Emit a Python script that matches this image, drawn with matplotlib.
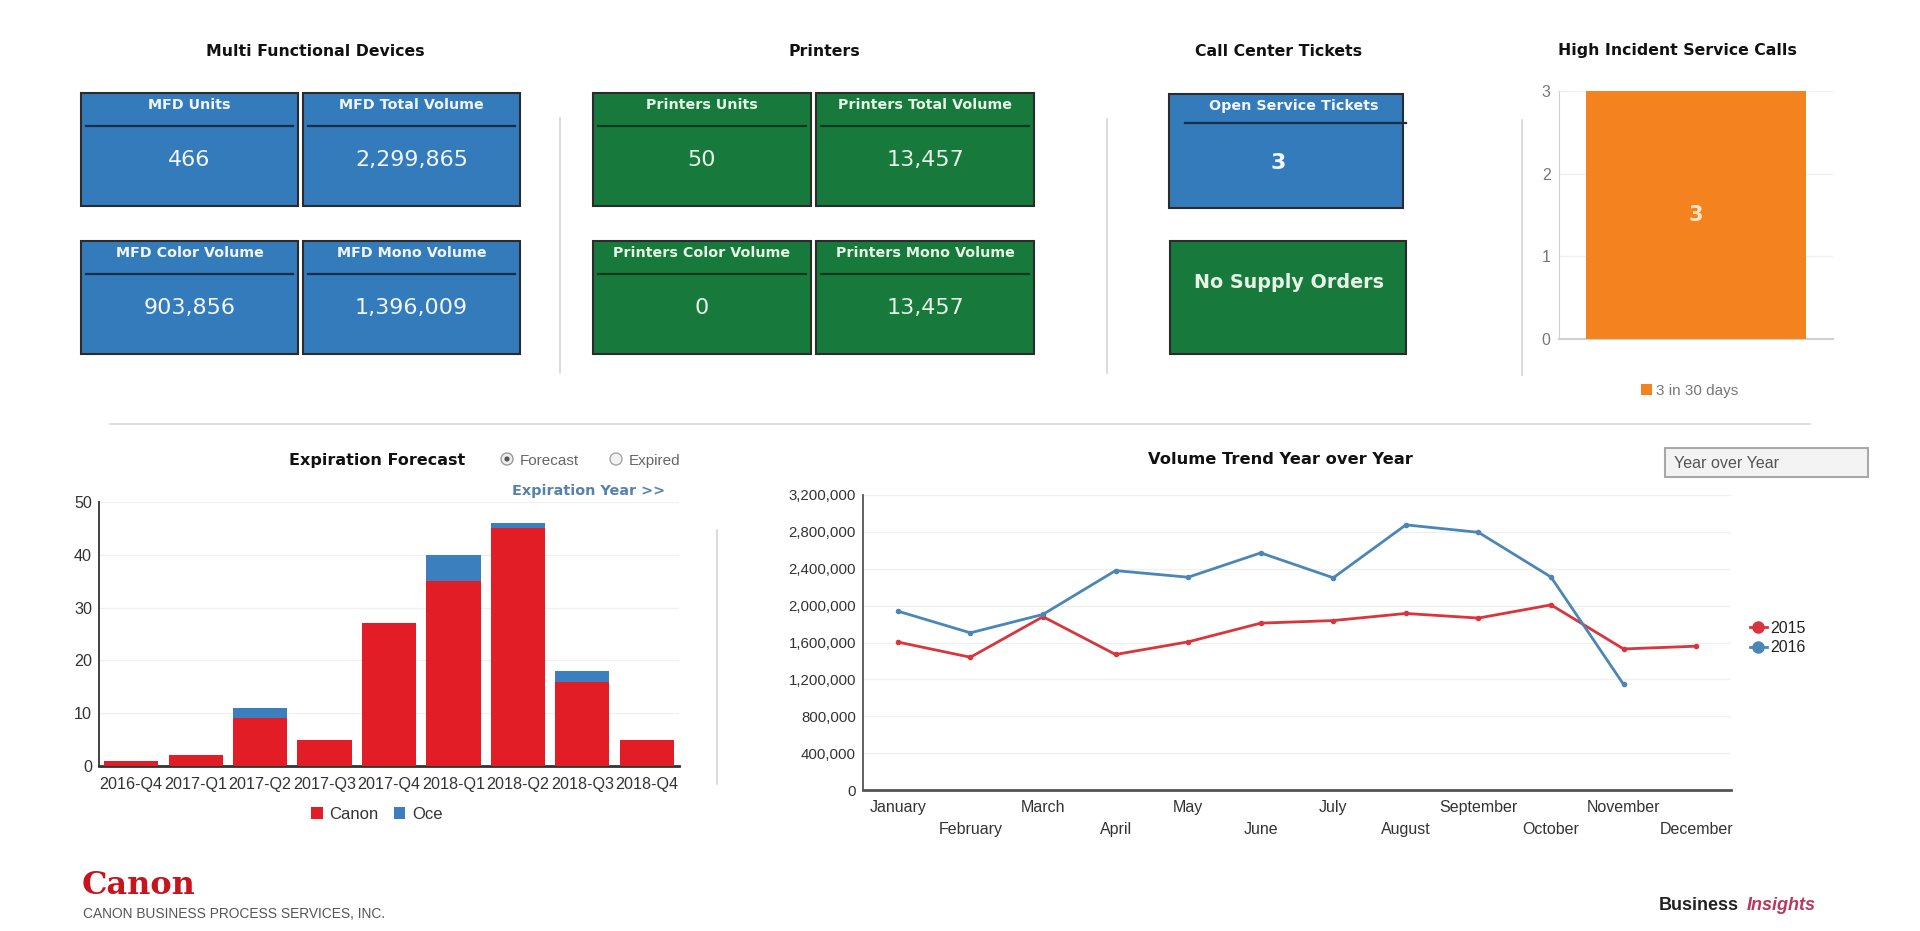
import matplotlib
matplotlib.use("Agg")
import matplotlib.pyplot as plt
from matplotlib.patches import Rectangle, Circle
from matplotlib.lines import Line2D
from matplotlib.ticker import FuncFormatter

# Kachel-Daten
mfd_titles = ["MFD Units", "MFD Total Volume", "MFD Color Volume", "MFD Mono Volume"]
mfd_values = [466, 2299865, 903856, 1396009]
printer_titles = ["Printers Units", "Printers Total Volume", "Printers Color Volume", "Printers Mono Volume"]
printer_values = [50, 13457, 0, 13457]
open_tickets = 3
supply_text = "No Supply Orders"

# High Incident Service Calls
incident_labels = ["3 in 30 days"]
incident_values = [3]

# Expiration Forecast
quarters = ["2016-Q4", "2017-Q1", "2017-Q2", "2017-Q3", "2017-Q4",
            "2018-Q1", "2018-Q2", "2018-Q3", "2018-Q4"]
canon = [1, 2, 9, 5, 27, 35, 45, 16, 5]
oce = [0, 0, 2, 0, 0, 5, 1, 2, 0]

# Volume Trend Year over Year
months = ["January", "February", "March", "April", "May", "June", "July",
          "August", "September", "October", "November", "December"]
vol_2015 = [1605000, 1440000, 1880000, 1470000, 1607000, 1810000, 1838000,
            1915000, 1865000, 2008000, 1530000, 1560000]
vol_2016 = [1940000, 1705000, 1905000, 2380000, 2308000, 2572000, 2302000,
            2876000, 2795000, 2310000, 1145000]

W, H = 1920, 931
BLUE = "#347bbb"
GREEN = "#18793d"
ORANGE = "#f4821f"
RED = "#e21d25"
OCE_BLUE = "#3b7fbf"
CHART_FONT = "Liberation Sans"

fig = plt.figure(figsize=(W / 100, H / 100), dpi=100)
fig.patch.set_facecolor("white")

# Hintergrund-Achse in Pixelkoordinaten
bg = fig.add_axes([0, 0, 1, 1])
bg.set_xlim(0, W)
bg.set_ylim(H, 0)
bg.axis("off")


def px_axes(x0, y0, x1, y1):
    return fig.add_axes([x0 / W, 1 - y1 / H, (x1 - x0) / W, (y1 - y0) / H])


def kpi_box(x, y, w, h, face, line_col, txt_col, title, value):
    bg.add_patch(Rectangle((x, y), w, h, facecolor=face, edgecolor="#2b2b2b", lw=1.5))
    bg.plot([x + 5, x + w - 5], [y + 33, y + 33], color=line_col, lw=1.6)
    bg.text(x + w / 2, y + 12, title, ha="center", va="center", color=txt_col,
            fontsize=10.3, fontweight="bold")
    bg.text(x + w / 2, y + 67, f"{value:,}", ha="center", va="center", color=txt_col,
            fontsize=16)


def section_title(x, y, s):
    bg.text(x, y, s, ha="center", va="center", fontsize=11.3, fontweight="bold", color="#111")


# Abschnittstitel
section_title(315, 51, "Multi Functional Devices")
section_title(824, 51, "Printers")
section_title(1279, 51, "Call Center Tickets")
section_title(1677, 51, "High Incident Service Calls")

# MFD-Kacheln
cols = [81, 303]
rows = [93, 241]
for i, (t, v) in enumerate(zip(mfd_titles, mfd_values)):
    kpi_box(cols[i % 2], rows[i // 2], 217, 113, BLUE, "#1a2d48", "#f2f6fb", t, v)

# Drucker-Kacheln
cols = [593, 816]
for i, (t, v) in enumerate(zip(printer_titles, printer_values)):
    kpi_box(cols[i % 2], rows[i // 2], 218, 113, GREEN, "#0d3a1c", "#e6f4e6", t, v)

# Call Center
bg.add_patch(Rectangle((1169, 94), 234, 114, facecolor=BLUE, edgecolor="#2b2b2b", lw=1.5))
bg.plot([1185, 1406], [123, 123], color="#1a2d48", lw=1.6)
bg.text(1294, 106, "Open Service Tickets", ha="center", va="center", color="#f2f6fb",
        fontsize=10.3, fontweight="bold")
bg.text(1278, 163, f"{open_tickets}", ha="center", va="center", color="#f2f6fb",
        fontsize=16, fontweight="bold")
bg.add_patch(Rectangle((1170, 241), 236, 113, facecolor=GREEN, edgecolor="#2b2b2b", lw=1.5))
bg.text(1289, 283, supply_text, ha="center", va="center", color="#e6f4e6",
        fontsize=13.8, fontweight="bold")

# Trennlinien
for x, y0, y1 in [(560, 118, 373), (1107, 119, 373), (1522, 120, 375), (717, 530, 784)]:
    bg.plot([x, x], [y0, y1], color="#d4d4d4", lw=1.2)
bg.plot([110, 1810], [424, 424], color="#d8d8d8", lw=1.2)

# High Incident Service Calls
ax1 = px_axes(1559, 91, 1833, 339)
ax1.bar([0], incident_values, width=0.8, color=ORANGE, label=incident_labels[0], zorder=3)
ax1.text(0, incident_values[0] / 2, f"{incident_values[0]}", ha="center", va="center",
         color="#fde6c4", fontsize=15, fontweight="bold", zorder=4)
ax1.set_xlim(-0.5, 0.5)
ax1.set_ylim(0, 3)
ax1.set_yticks([0, 1, 2, 3])
ax1.set_xticks([])
ax1.grid(axis="y", color="#f0f0f0", lw=1)
for s in ["top", "right"]:
    ax1.spines[s].set_visible(False)
ax1.spines["left"].set_color("#d0d0d0")
ax1.spines["bottom"].set_color("#d0d0d0")
ax1.spines["bottom"].set_linewidth(1.5)
ax1.tick_params(axis="y", length=0, pad=6, labelsize=11.5, labelcolor="#777")
for lab in ax1.get_yticklabels():
    lab.set_family(CHART_FONT)
ax1.legend(loc="center", bbox_to_anchor=(0.478, -0.21), frameon=False,
           handlelength=0.7, handleheight=0.7, handletextpad=0.3,
           prop={"family": CHART_FONT, "size": 11}, labelcolor="#777")

# Expiration Forecast
bg.text(377, 460, "Expiration Forecast", ha="center", va="center", fontsize=11.5,
        fontweight="bold", color="#111")
bg.add_patch(Circle((507, 459), 6, facecolor="#eeeeee", edgecolor="#9a9a9a", lw=1))
bg.add_patch(Circle((507, 459), 2.6, facecolor="#555555", edgecolor="none"))
bg.text(520, 461, "Forecast", ha="left", va="center", fontsize=11, color="#666",
        family=CHART_FONT)
bg.add_patch(Circle((616, 459), 6, facecolor="#f2f2f2", edgecolor="#a5a5a5", lw=1))
bg.text(629, 461, "Expired", ha="left", va="center", fontsize=11, color="#666",
        family=CHART_FONT)
bg.text(589, 491, "Expiration Year >>", ha="center", va="center", fontsize=10.4,
        fontweight="bold", color="#5580b0")

ax2 = px_axes(99, 502, 679, 766)
x = list(range(len(quarters)))
ax2.bar(x, canon, width=0.84, color=RED, label="Canon", zorder=3)
ax2.bar(x, oce, width=0.84, bottom=canon, color=OCE_BLUE, label="Oce", zorder=3)
ax2.set_xlim(-0.5, len(quarters) - 0.5)
ax2.set_ylim(0, 50)
ax2.set_yticks(range(0, 51, 10))
ax2.set_xticks(x)
ax2.set_xticklabels(quarters)
ax2.grid(axis="y", color="#f0f0f0", lw=1)
for s in ["top", "right"]:
    ax2.spines[s].set_visible(False)
ax2.spines["left"].set_color("#333")
ax2.spines["left"].set_linewidth(1.3)
ax2.spines["bottom"].set_color("#333")
ax2.spines["bottom"].set_linewidth(2)
ax2.tick_params(length=0, labelsize=11.6, labelcolor="#333")
ax2.tick_params(axis="x", pad=8)
ax2.tick_params(axis="y", pad=5)
for lab in ax2.get_xticklabels() + ax2.get_yticklabels():
    lab.set_family(CHART_FONT)
ax2.legend(loc="center", bbox_to_anchor=(0.479, -0.182), ncol=2, frameon=False,
           handlelength=0.7, handleheight=0.7, handletextpad=0.4, columnspacing=0.9,
           prop={"family": CHART_FONT, "size": 12}, labelcolor="#333")

# Volume Trend Year over Year
bg.text(1280, 459, "Volume Trend Year over Year", ha="center", va="center",
        fontsize=11.7, fontweight="bold", color="#111")
bg.add_patch(Rectangle((1665, 448), 203, 29, facecolor="#f3f3f3", edgecolor="#a8a8a8", lw=1.5))
bg.text(1674, 463, "Year over Year", ha="left", va="center", fontsize=11.6, color="#555",
        family=CHART_FONT)

ax3 = px_axes(863, 495, 1731, 790)
ax3.plot(range(len(vol_2015)), vol_2015, color="#d8353c", lw=2, marker="o", ms=3,
         label="2015", zorder=3)
ax3.plot(range(len(vol_2016)), vol_2016, color="#4a86b6", lw=2, marker="o", ms=3,
         label="2016", zorder=3)
ax3.set_xlim(-0.48, 11.48)
ax3.set_ylim(0, 3200000)
ax3.set_yticks(range(0, 3200001, 400000))
ax3.yaxis.set_major_formatter(FuncFormatter(lambda v, p: f"{int(v):,}"))
ax3.set_xticks(range(len(months)))
ax3.set_xticklabels(months)
ax3.grid(axis="y", color="#f0f0f0", lw=1)
for s in ["top", "right"]:
    ax3.spines[s].set_visible(False)
ax3.spines["left"].set_color("#555")
ax3.spines["left"].set_linewidth(1.3)
ax3.spines["bottom"].set_color("#555")
ax3.spines["bottom"].set_linewidth(2)
ax3.tick_params(axis="y", length=0, labelsize=10.8, labelcolor="#333", pad=5)
ax3.tick_params(axis="x", length=0, labelsize=11.5, labelcolor="#333")
for i, t in enumerate(ax3.xaxis.get_major_ticks()):
    t.set_pad(7 if i % 2 == 0 else 23)
for lab in ax3.get_xticklabels() + ax3.get_yticklabels():
    lab.set_family(CHART_FONT)
handles = [Line2D([], [], color="#d8353c", marker="o", ms=8, lw=2),
           Line2D([], [], color="#4a86b6", marker="o", ms=8, lw=2)]
ax3.legend(handles, ["2015", "2016"], loc="center left", bbox_to_anchor=(1.005, 0.515),
           frameon=False, handlelength=1.1, handletextpad=0.2, labelspacing=0.3,
           prop={"family": CHART_FONT, "size": 11.5}, labelcolor="#222")

# Fusszeile
bg.text(82, 885, "Canon", ha="left", va="center", fontsize=23, fontweight="bold",
        family="DejaVu Serif", color="#c8141e")
bg.text(83, 914, "CANON BUSINESS PROCESS SERVICES, INC.", ha="left", va="center",
        fontsize=9.9, color="#555", family=CHART_FONT)
bg.text(1659, 905, "Business", ha="left", va="center", fontsize=13, fontweight="bold",
        color="#222", family=CHART_FONT)
bg.text(1747, 905, "Insights", ha="left", va="center", fontsize=13, fontweight="bold",
        style="italic", color="#b8385e", family=CHART_FONT)

fig.savefig("out.png", dpi=100, facecolor="white")
